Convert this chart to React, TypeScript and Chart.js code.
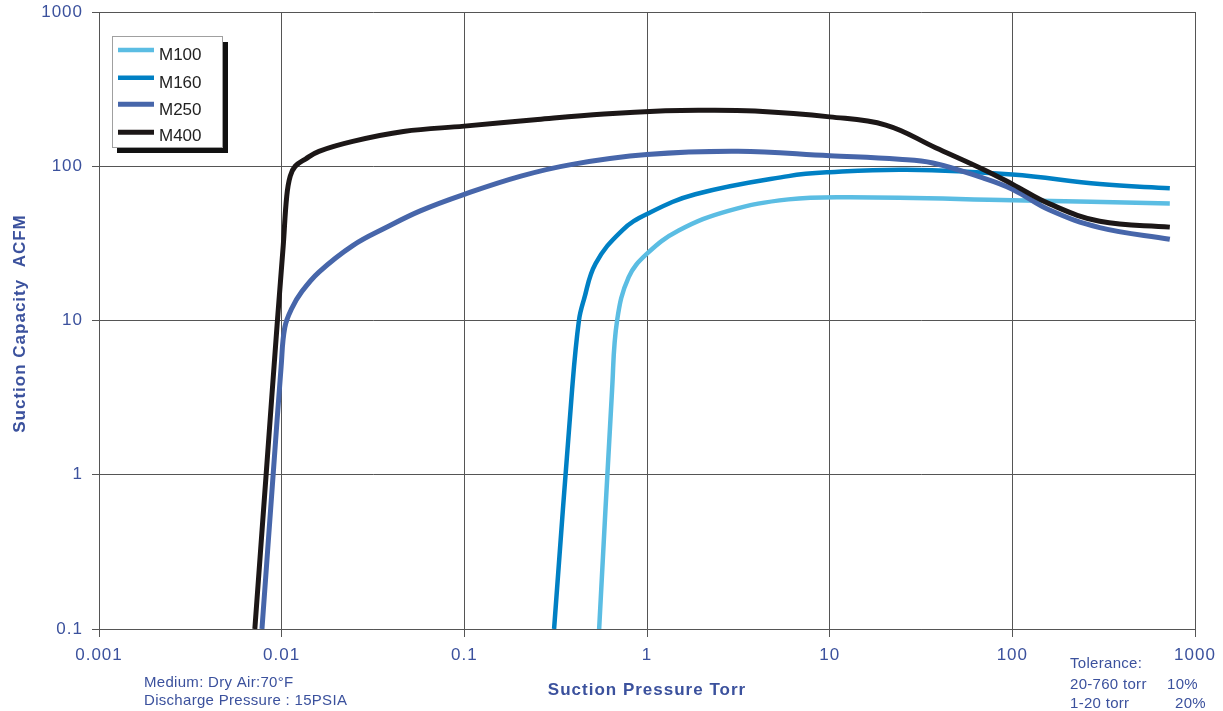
import React, { useEffect, useRef } from "react";
import { Chart, registerables } from "chart.js";

Chart.register(...registerables);

// ---- Data ----
const seriesNames = ["M100", "M160", "M250", "M400"];
const seriesColors = ["#5bbde3", "#0080c4", "#4766aa", "#1c1717"];
const seriesWidths = [4.5, 4.5, 5, 5];

const m100Pressure = [0.547, 0.644, 0.686, 0.794, 1, 1.49, 2.79, 5.95, 12.9, 100, 728];
const m100Capacity = [0.1, 3.56, 10, 19.1, 27.1, 38.3, 51.4, 61, 63, 60.3, 57.3];

const m160Pressure = [0.31, 0.389, 0.424, 0.451, 0.523, 0.73, 1, 1.84, 5.95, 10, 26.3, 100, 301, 728];
const m160Capacity = [0.1, 3.56, 10, 13.6, 23.4, 38.3, 49, 65.8, 86.3, 91.5, 95, 88.5, 76.6, 72];

const m250Pressure = [0.0078, 0.00898, 0.00993, 0.0104, 0.01137, 0.0129, 0.016, 0.0245, 0.0375, 0.0574, 0.1, 0.204, 0.383, 1, 3.15, 10, 24, 36.7, 69, 100, 160, 301, 728];
const m250Capacity = [0.1, 1, 5, 9, 12, 15.4, 20.6, 30.6, 40.2, 51.4, 65.8, 86.3, 102.5, 119, 125, 117, 111, 105, 84, 71, 52, 40, 33.6];

const m400Pressure = [0.00713, 0.00822, 0.00948, 0.0102, 0.01066, 0.01114, 0.01186, 0.0135, 0.016, 0.0245, 0.0464, 0.1, 0.252, 0.582, 1.26, 2, 3.9, 10, 20.3, 38, 69, 100, 160, 301, 728];
const m400Capacity = [0.1, 1, 10, 30.6, 64, 86.3, 100, 111.4, 125, 145, 168, 182, 201, 218, 229, 231, 228, 209, 185, 132, 95.7, 76.6, 57, 44, 40.3];

const xTickValues = [0.001, 0.01, 0.1, 1, 10, 100, 1000];
const xTickLabels = ["0.001", "0.01", "0.1", "1", "10", "100", "1000"];
const yTickValues = [0.1, 1, 10, 100, 1000];
const yTickLabels = ["0.1", "1", "10", "100", "1000"];

const xAxisTitle = "Suction Pressure Torr";
const yAxisTitle = "Suction Capacity  ACFM";
const mediumNotes = ["Medium: Dry Air:70°F", "Discharge Pressure : 15PSIA"];
const toleranceLabels = ["Tolerance:", "20-760 torr", "1-20 torr"];
const toleranceValues = ["", "10%", "20%"];

const BLUE = "#3b519d";
const FONT = '"Liberation Sans", Arial, sans-serif';

function toPoints(xs: number[], ys: number[]) {
  return xs.map((x, i) => ({ x, y: ys[i] }));
}

const annotationPlugin = {
  id: "annotations",
  beforeDraw(chart: any) {
    (chart.ctx as any).letterSpacing = "1px";
  },
  afterDraw(chart: any) {
    const ctx = chart.ctx as CanvasRenderingContext2D & { letterSpacing: string };
    const { left, right, top, bottom } = chart.chartArea;

    // Axis titles
    ctx.save();
    ctx.fillStyle = BLUE;
    ctx.font = `bold 17px ${FONT}`;
    ctx.letterSpacing = "1px";
    ctx.textAlign = "center";
    ctx.textBaseline = "middle";
    ctx.save();
    ctx.translate(20, (top + bottom) / 2 + 3);
    ctx.rotate(-Math.PI / 2);
    ctx.fillText(yAxisTitle, 0, 0);
    ctx.restore();
    ctx.textBaseline = "alphabetic";
    ctx.fillText(xAxisTitle, (left + right) / 2, 695);

    // Notes
    ctx.font = `15px ${FONT}`;
    ctx.letterSpacing = "0.3px";
    ctx.textAlign = "left";
    mediumNotes.forEach((t, i) => ctx.fillText(t, 144, 687 + i * 18));
    const tolY = [668, 689, 708];
    const tolX = [0, 1167, 1175];
    toleranceLabels.forEach((t, i) => {
      ctx.fillText(t, 1070, tolY[i]);
      if (toleranceValues[i]) ctx.fillText(toleranceValues[i], tolX[i], tolY[i]);
    });
    ctx.restore();

    // Legend
    ctx.save();
    ctx.letterSpacing = "0px";
    ctx.fillStyle = "#111";
    ctx.fillRect(117, 42, 111, 111);
    ctx.fillStyle = "#fff";
    ctx.fillRect(112, 36, 111, 112);
    ctx.strokeStyle = "#a0a0a0";
    ctx.lineWidth = 1;
    ctx.strokeRect(112.5, 36.5, 110, 111);
    const rows = [50, 77.7, 104.3, 132.3];
    const baselines = [60, 87.5, 114.5, 141];
    chart.data.datasets.forEach((ds: any, i: number) => {
      ctx.strokeStyle = ds.borderColor;
      ctx.lineWidth = ds.borderWidth;
      ctx.lineCap = "butt";
      ctx.beginPath();
      ctx.moveTo(118, rows[i]);
      ctx.lineTo(154, rows[i]);
      ctx.stroke();
      ctx.fillStyle = "#222";
      ctx.font = `17px ${FONT}`;
      ctx.textAlign = "left";
      ctx.textBaseline = "alphabetic";
      ctx.fillText(ds.label, 159, baselines[i]);
    });
    ctx.restore();
    (ctx as any).letterSpacing = "0px";
  },
};

export default function App() {
  const canvasRef = useRef<HTMLCanvasElement | null>(null);

  useEffect(() => {
    if (!canvasRef.current) return;
    const pressures = [m100Pressure, m160Pressure, m250Pressure, m400Pressure];
    const capacities = [m100Capacity, m160Capacity, m250Capacity, m400Capacity];
    const datasets = seriesNames.map((name, i) => ({
      label: name,
      data: toPoints(pressures[i], capacities[i]),
      borderColor: seriesColors[i],
      backgroundColor: seriesColors[i],
      borderWidth: seriesWidths[i],
      pointRadius: 0,
      fill: false,
      tension: 0.4,
      borderJoinStyle: "round" as const,
      order: 3 - i,
    }));

    const chart = new Chart(canvasRef.current, {
      type: "line",
      data: { datasets },
      options: {
        animation: false,
        responsive: false,
        devicePixelRatio: 1,
        layout: { padding: { top: 12, right: 28, left: 0, bottom: 0 }, autoPadding: false } as any,
        plugins: {
          legend: { display: false },
          tooltip: { enabled: false },
        },
        scales: {
          x: {
            type: "logarithmic",
            min: 0.001,
            max: 1000,
            afterBuildTicks: (scale: any) => {
              scale.ticks = xTickValues.map((v) => ({ value: v }));
            },
            afterFit: (scale: any) => {
              scale.height = 82;
              scale.paddingLeft = 0;
              scale.paddingRight = 0;
            },
            ticks: {
              color: BLUE,
              font: { family: FONT, size: 17 },
              padding: 8,
              maxRotation: 0,
              autoSkip: false,
              callback: (value: any) => {
                const idx = xTickValues.findIndex((v) => Math.abs(v - Number(value)) / v < 1e-6);
                return idx >= 0 ? xTickLabels[idx] : "";
              },
            },
            grid: { color: "#555", lineWidth: 1, tickLength: 8, drawTicks: true },
            border: { color: "#555", width: 1 },
          },
          y: {
            type: "logarithmic",
            min: 0.1,
            max: 1000,
            afterBuildTicks: (scale: any) => {
              scale.ticks = yTickValues.map((v) => ({ value: v }));
            },
            afterFit: (scale: any) => {
              scale.width = 99;
              scale.paddingTop = 0;
              scale.paddingBottom = 0;
            },
            ticks: {
              color: BLUE,
              font: { family: FONT, size: 17 },
              padding: 9,
              autoSkip: false,
              callback: (value: any) => {
                const idx = yTickValues.findIndex((v) => Math.abs(v - Number(value)) / v < 1e-6);
                return idx >= 0 ? yTickLabels[idx] : "";
              },
            },
            grid: { color: "#555", lineWidth: 1, tickLength: 7, drawTicks: true },
            border: { color: "#555", width: 1 },
          },
        },
      },
      plugins: [annotationPlugin],
    });
    return () => chart.destroy();
  }, []);

  return (
    <div style={{ position: "absolute", left: 0, top: 0, width: 1223, height: 711, background: "#fff" }}>
      <canvas ref={canvasRef} width={1223} height={711} style={{ display: "block" }} />
    </div>
  );
}
